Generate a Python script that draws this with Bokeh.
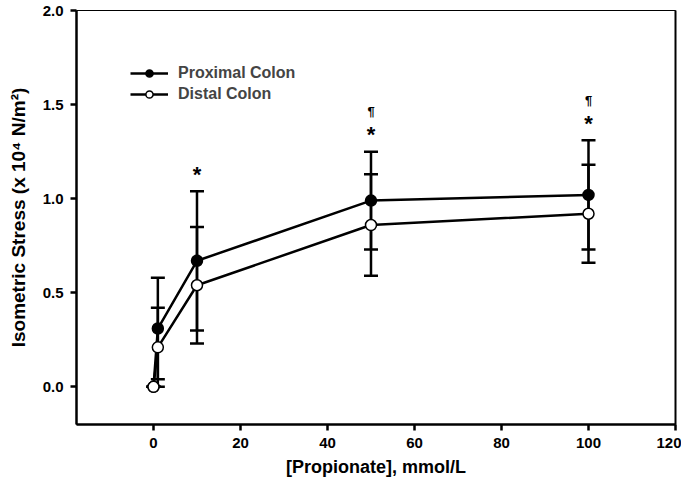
from bokeh.plotting import figure
from bokeh.models import (ColumnDataSource, Whisker, TeeHead, FixedTicker, NumeralTickFormatter,
                          Legend, LegendItem, LinearAxis, Range1d)
from bokeh.core.properties import value
from bokeh.embed import file_html
from bokeh.resources import INLINE

# data
conc = [0, 1, 10, 50, 100]
proximal = [0.0, 0.31, 0.67, 0.99, 1.02]
proximal_se = [0.0, 0.27, 0.37, 0.26, 0.29]
distal = [0.0, 0.21, 0.54, 0.86, 0.92]
distal_se = [0.0, 0.21, 0.31, 0.27, 0.26]

x_ticks = [0, 20, 40, 60, 80, 100, 120]
y_ticks = [0.0, 0.5, 1.0, 1.5, 2.0]

annot_x = [10, 50, 100]
annot_star = ["*", "*", "*"]
annot_para = ["", "\u00b6", "\u00b6"]

FONT = "Liberation Sans"

prox_up = [m + s for m, s in zip(proximal, proximal_se)]
prox_lo = [m - s for m, s in zip(proximal, proximal_se)]
dist_up = [m + s for m, s in zip(distal, distal_se)]
dist_lo = [m - s for m, s in zip(distal, distal_se)]

src_p = ColumnDataSource(dict(x=conc, y=proximal, up=prox_up, lo=prox_lo))
src_d = ColumnDataSource(dict(x=conc, y=distal, up=dist_up, lo=dist_lo))

p = figure(width=681, height=490, output_backend="svg", toolbar_location=None,
           x_range=Range1d(-17.7, 120), y_range=Range1d(-0.2, 2.0),
           min_border_left=76, min_border_right=6, min_border_top=10, min_border_bottom=66)
p.grid.visible = False
p.outline_line_color = "black"
p.outline_line_width = 1
p.background_fill_color = "white"

for ax in (p.xaxis[0], p.yaxis[0]):
    ax.axis_line_width = 2.5
    ax.major_tick_line_width = 2.5
    ax.major_tick_out = 6
    ax.major_tick_in = 0
    ax.minor_tick_line_color = None
    ax.major_label_text_font = FONT
    ax.major_label_text_font_style = "bold"
    ax.major_label_text_font_size = "15px"
    ax.major_label_text_color = "black"
    ax.axis_label_text_font = FONT
    ax.axis_label_text_font_style = "bold"
    ax.axis_label_text_color = "black"

p.xaxis.ticker = FixedTicker(ticks=x_ticks)
p.yaxis.ticker = FixedTicker(ticks=y_ticks)
p.yaxis.formatter = NumeralTickFormatter(format="0.0")
p.xaxis.axis_label = "[Propionate], mmol/L"
p.yaxis.axis_label = "Isometric Stress (x 10\u2074 N/m\u00b2)"
p.xaxis.axis_label_text_font_size = "18px"
p.yaxis.axis_label_text_font_size = "19px"
p.xaxis.major_label_standoff = 7
p.xaxis.axis_label_standoff = 6
p.yaxis.major_label_standoff = 7
p.yaxis.axis_label_standoff = 11

right = LinearAxis(ticker=FixedTicker(ticks=[]), axis_line_width=2, major_label_text_font_size="0px",
                   major_tick_line_color=None, minor_tick_line_color=None)
p.add_layout(right, "right")

# error bars
for src in (src_p, src_d):
    w = Whisker(source=src, base="x", upper="up", lower="lo", line_width=2.5, line_color="black",
                upper_head=TeeHead(size=14, line_width=2.5, line_color="black"),
                lower_head=TeeHead(size=14, line_width=2.5, line_color="black"))
    p.add_layout(w)

lp = p.line("x", "y", source=src_p, line_width=2.5, line_color="black")
ld = p.line("x", "y", source=src_d, line_width=2.5, line_color="black")
cp = p.scatter("x", "y", source=src_p, size=11, fill_color="black", line_color="black", line_width=1.5)
cd = p.scatter("x", "y", source=src_d, size=11, fill_color="white", line_color="black", line_width=1.5)

# annotations above upper error caps
ann_top = [prox_up[conc.index(x)] for x in annot_x]
src_a = ColumnDataSource(dict(x=annot_x, y=ann_top, s=annot_star, q=annot_para))
p.text("x", "y", text="s", source=src_a, text_font=value(FONT), text_font_style="bold",
       text_font_size="22px", text_align="center", text_baseline="alphabetic", y_offset=-17,
       text_color="black")
p.text("x", "y", text="q", source=src_a, text_font=value(FONT), text_font_style="bold",
       text_font_size="13px", text_align="center", text_baseline="middle", y_offset=-40,
       text_color="black")

legend = Legend(items=[LegendItem(label="Proximal Colon", renderers=[lp, cp]),
                       LegendItem(label="Distal Colon", renderers=[ld, cd])],
                location=(54, 321), glyph_width=38, glyph_height=18, spacing=3,
                label_text_font=FONT, label_text_font_style="bold", label_text_font_size="16px",
                label_standoff=10, border_line_color=None, background_fill_alpha=0,
                padding=0, margin=0)
p.add_layout(legend, "center")

open("out.html", "w").write(file_html(p, INLINE))
